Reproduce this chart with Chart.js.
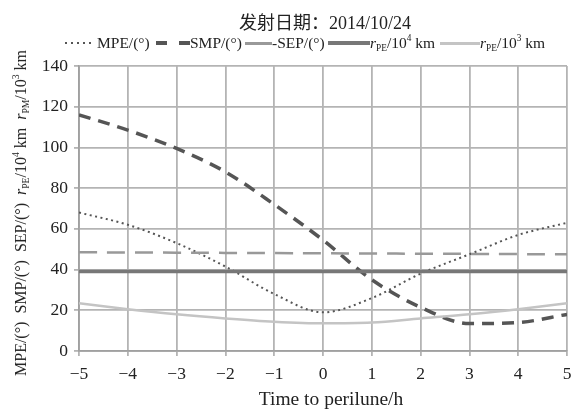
<!DOCTYPE html>
<html>
<head>
<meta charset="utf-8">
<script src="https://cdn.jsdelivr.net/npm/chart.js@4.4.0/dist/chart.umd.min.js"></script>
<style>
  body { margin: 0; background: #fff; }
  #wrap { position: relative; width: 571px; height: 412px; overflow: hidden; }
  #wrap canvas { position: absolute; left: 0; top: 0; }
  .serif { font-family: "Liberation Serif", "DejaVu Serif", serif; color: #222; }
  #title { position: absolute; left: 325px; top: 8px; transform: translateX(-50%); white-space: nowrap;
    font-size: 18px; font-family: "Liberation Serif", "Noto Sans CJK SC", serif; color: #222; }
  .lg { position: absolute; top: 33px; font-size: 15.5px; white-space: nowrap; line-height: 20px; }
  .sw { position: absolute; top: 43px; }
  #ytitle { position: absolute; left: 21px; top: 213px; font-size: 16px; white-space: nowrap; line-height: 20px;
    transform: translate(-50%, -50%) rotate(-90deg); }
  #xtitle { position: absolute; left: 331px; top: 388px; transform: translateX(-50%); font-size: 19.5px; white-space: nowrap; }
  sub, sup { font-size: 60%; line-height: 0; }
  sub { vertical-align: -3px; } sup { vertical-align: 7px; }
</style>
</head>
<body>
<div id="wrap">
  <canvas id="myChart" width="571" height="412"></canvas>
  <div id="title">发射日期：2014/10/24</div>

  <div class="sw" style="left:65px;width:30px;height:2px;margin-top:-1px;background:repeating-linear-gradient(90deg,#555 0 2px,transparent 2px 6px);"></div>
  <div class="lg serif" style="left:97px;">MPE/(°)</div>
  <div class="sw" style="left:156px;width:34px;height:3.5px;margin-top:-2px;background:repeating-linear-gradient(90deg,#555 0 11px,transparent 11px 23px);"></div>
  <div class="lg serif" style="left:190px;">SMP/(°)</div>
  <div class="sw" style="left:245px;width:27px;height:3px;margin-top:-1.5px;background:#999;"></div>
  <div class="lg serif" style="left:272px;">-SEP/(°)</div>
  <div class="sw" style="left:328px;width:42px;height:4px;margin-top:-2px;background:#777;"></div>
  <div class="lg serif" style="left:370px;"><i>r</i><sub>PE</sub>/10<sup>4</sup> km</div>
  <div class="sw" style="left:440px;width:40px;height:3px;margin-top:-1.5px;background:#c4c4c4;"></div>
  <div class="lg serif" style="left:480px;"><i>r</i><sub>PE</sub>/10<sup>3</sup> km</div>

  <div id="ytitle" class="serif">MPE/(°)&nbsp; SMP/(°)&nbsp; SEP/(°)&nbsp; <i>r</i><sub>PE</sub>/10<sup>4</sup> km&nbsp; <i>r</i><sub>PM</sub>/10<sup>3</sup> km</div>
  <div id="xtitle" class="serif">Time to perilune/h</div>
</div>
<script>
let hours = [-5, -4, -3, -2, -1, 0, 1, 2, 3, 4, 5];
let mpe = [68, 62, 53, 41.5, 28, 19, 26, 38, 47.5, 57, 63];
let smp = [116, 108.5, 99.5, 88, 72, 54.5, 35, 21.5, 13.5, 14, 18];
let sep = [48.5, 48.4, 48.3, 48.2, 48.1, 48, 47.9, 47.8, 47.7, 47.6, 47.5];
let rpe4 = [39, 39, 39, 39, 39, 39, 39, 39, 39, 39, 39];
let rpe3 = [23.4, 20.5, 18, 16, 14.4, 13.6, 14, 16, 18, 20.5, 23.4];
let yTicks = [0, 20, 40, 60, 80, 100, 120, 140];

function points(vals) {
  return hours.map((h, i) => ({ x: h, y: vals[i] }));
}

let tickFont = { family: "'Liberation Serif', serif", size: 17.5 };

new Chart("myChart", {
  type: "scatter",
  data: {
    datasets: [
      { label: "rPE/10^3 km", data: points(rpe3), borderColor: "#c4c4c4", borderWidth: 2.5, cubicInterpolationMode: "monotone" },
      { label: "rPE/10^4 km", data: points(rpe4), borderColor: "#777", borderWidth: 3.5 },
      { label: "SEP", data: points(sep), borderColor: "#999", borderWidth: 2.5, borderDash: [18, 10] },
      { label: "SMP", data: points(smp), borderColor: "#555", borderWidth: 3.5, borderDash: [12, 8], cubicInterpolationMode: "monotone" },
      { label: "MPE", data: points(mpe), borderColor: "#555", borderWidth: 2, borderDash: [2, 3.5], cubicInterpolationMode: "monotone" }
    ].map(d => Object.assign(d, { showLine: true, pointRadius: 0, tension: 0.4, fill: false }))
  },
  options: {
    responsive: false,
    animation: false,
    layout: { padding: { top: 66, right: 4, left: 0, bottom: 0 } },
    plugins: { legend: { display: false }, tooltip: { enabled: false } },
    scales: {
      x: {
        type: "linear", min: -5, max: 5,
        afterFit: s => { s.height = 61; s.paddingLeft = 0; s.paddingRight = 0; },
        ticks: { stepSize: 1, color: "#222", font: tickFont, padding: 8,
          callback: v => (v < 0 ? "\u2212" + Math.abs(v) : String(v)) },
        grid: { color: "#b4b4b4", lineWidth: 1.8, tickLength: 5 },
        border: { color: "#a0a0a0", width: 1.8 }
      },
      y: {
        min: 0, max: 140,
        afterFit: s => { s.width = 79; s.paddingTop = 0; s.paddingBottom = 0; },
        afterBuildTicks: s => { s.ticks = yTicks.map(v => ({ value: v })); },
        ticks: { color: "#222", font: tickFont, padding: 6 },
        grid: { color: "#b4b4b4", lineWidth: 1.8, tickLength: 5 },
        border: { color: "#a0a0a0", width: 1.8 }
      }
    }
  }
});
</script>
</body>
</html>
